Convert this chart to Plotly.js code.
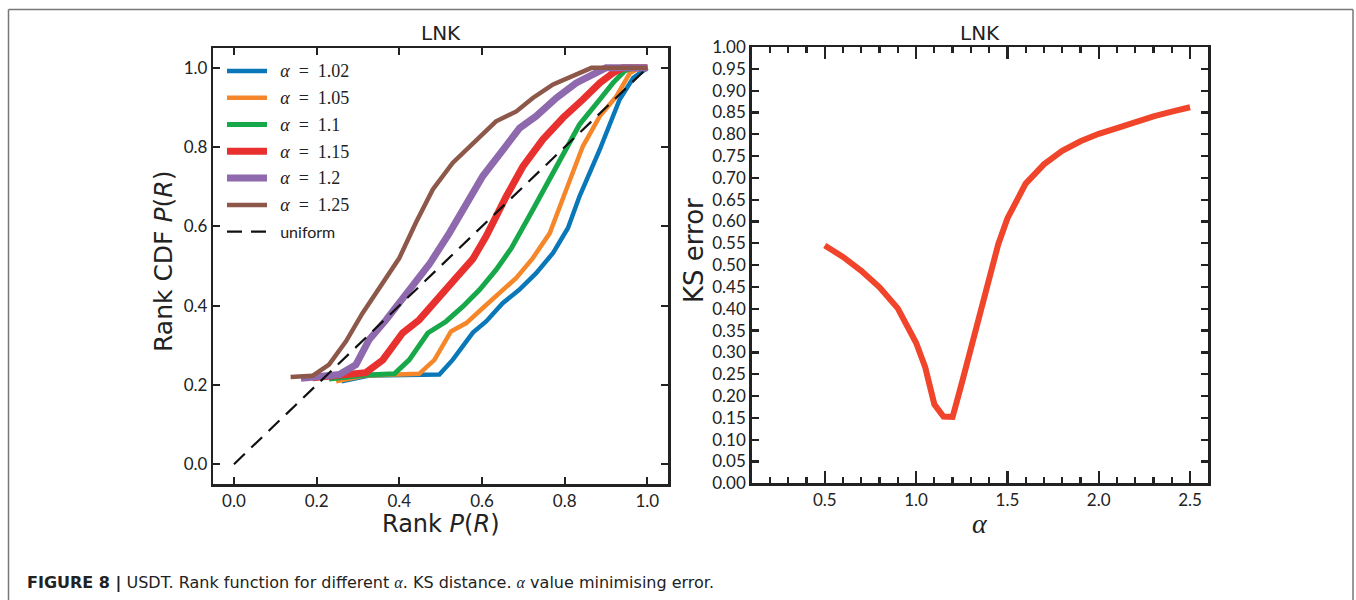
<!DOCTYPE html>
<html>
<head>
<meta charset="utf-8">
<script src="https://cdn.plot.ly/plotly-3.0.1.min.js"></script>
<style>html,body{margin:0;padding:0;background:#fff;}#chart{width:1356px;height:600px;}</style>
</head>
<body>
<div id="chart"></div>
<script>
// ---------- data: left panel (rank CDF) ----------
const seriesNames = ["1.02", "1.05", "1.1", "1.15", "1.2", "1.25"];

const x_102 = [0.26, 0.33, 0.497, 0.529, 0.578, 0.61, 0.65, 0.69, 0.731, 0.772, 0.808, 0.836, 0.885, 0.933, 0.966, 1.0];
const y_102 = [0.209, 0.224, 0.226, 0.263, 0.332, 0.36, 0.406, 0.44, 0.482, 0.533, 0.596, 0.676, 0.794, 0.92, 0.975, 1.0];

const x_105 = [0.247, 0.32, 0.448, 0.485, 0.525, 0.562, 0.602, 0.642, 0.683, 0.723, 0.764, 0.804, 0.844, 0.885, 0.925, 0.958, 0.982, 1.0];
const y_105 = [0.209, 0.224, 0.228, 0.263, 0.335, 0.356, 0.394, 0.432, 0.47, 0.52, 0.583, 0.693, 0.802, 0.878, 0.928, 0.987, 1.0, 1.0];

const x_110 = [0.23, 0.32, 0.388, 0.424, 0.469, 0.513, 0.554, 0.594, 0.634, 0.671, 0.723, 0.772, 0.804, 0.836, 0.885, 0.917, 0.945, 0.966, 1.0];
const y_110 = [0.215, 0.225, 0.228, 0.263, 0.331, 0.36, 0.398, 0.44, 0.49, 0.545, 0.642, 0.735, 0.794, 0.857, 0.92, 0.962, 0.992, 1.0, 1.0];

const x_115 = [0.19, 0.24, 0.319, 0.36, 0.408, 0.448, 0.489, 0.533, 0.578, 0.61, 0.659, 0.699, 0.747, 0.796, 0.844, 0.885, 0.917, 0.941, 1.0];
const y_115 = [0.218, 0.222, 0.231, 0.263, 0.331, 0.364, 0.415, 0.465, 0.518, 0.575, 0.676, 0.751, 0.819, 0.874, 0.92, 0.962, 0.987, 1.0, 1.0];

const x_120 = [0.162, 0.255, 0.295, 0.327, 0.368, 0.4, 0.432, 0.473, 0.521, 0.562, 0.602, 0.642, 0.691, 0.731, 0.78, 0.828, 0.877, 0.9, 1.0];
const y_120 = [0.217, 0.226, 0.251, 0.314, 0.364, 0.407, 0.448, 0.505, 0.583, 0.659, 0.727, 0.781, 0.848, 0.878, 0.924, 0.962, 0.987, 1.0, 1.0];

const x_125 = [0.137, 0.19, 0.23, 0.271, 0.311, 0.36, 0.4, 0.44, 0.481, 0.529, 0.586, 0.634, 0.683, 0.723, 0.772, 0.82, 0.865, 1.0];
const y_125 = [0.22, 0.223, 0.251, 0.31, 0.381, 0.457, 0.52, 0.609, 0.693, 0.76, 0.819, 0.865, 0.89, 0.924, 0.958, 0.979, 1.0, 1.0];

const x_uniform = [0, 1];
const y_uniform = [0, 1];

// ---------- data: right panel (KS error vs alpha) ----------
const alphaValues = [0.5, 0.6, 0.7, 0.8, 0.9, 1.0, 1.05, 1.1, 1.15, 1.2, 1.25, 1.3, 1.35, 1.4, 1.45, 1.5, 1.55, 1.6, 1.7, 1.8, 1.9, 2.0, 2.1, 2.2, 2.3, 2.4, 2.5];
const ksError = [0.545, 0.519, 0.487, 0.449, 0.401, 0.322, 0.266, 0.181, 0.153, 0.152, 0.229, 0.312, 0.396, 0.477, 0.548, 0.607, 0.651, 0.687, 0.731, 0.762, 0.784, 0.801, 0.814, 0.828, 0.841, 0.852, 0.862];

// ---------- text ----------
const panelTitle = "LNK";
const leftXTitle = "Rank <i>P</i>(<i>R</i>)";
const leftYTitle = "Rank CDF <i>P</i>(<i>R</i>)";
const rightXTitle = "<i>α</i>";
const rightYTitle = "KS error";

// ---------- styling ----------
const W = 1356, H = 600;
const px = v => v / W;
const py = v => 1 - v / H;

const colors = ["#0a78b8", "#f5872a", "#17a84a", "#e8302f", "#8f69ae", "#8d5849"];
const widths = [4.5, 4.5, 5, 7, 7, 4.5];
const xs = [x_102, x_105, x_110, x_115, x_120, x_125];
const ys = [y_102, y_105, y_110, y_115, y_120, y_125];

const SANS = "Lato, 'DejaVu Sans', sans-serif";
const TITLESANS = "'DejaVu Sans', Lato, sans-serif";
const SERIF = "'Liberation Serif', 'DejaVu Serif', serif";

const traces = [];
for (let i = 0; i < seriesNames.length; i++) {
  traces.push({
    x: xs[i], y: ys[i], type: "scatter", mode: "lines",
    name: '&nbsp;&nbsp;<span style="font-family:Liberation Serif;font-size:18px"><i>α</i>&nbsp;&nbsp;=&nbsp;&nbsp;' + seriesNames[i] + '</span>',
    legendgroup: "g" + i,
    line: {color: colors[i], width: widths[i]},
    xaxis: "x", yaxis: "y", hoverinfo: "skip"
  });
}
traces.push({
  x: x_uniform, y: y_uniform, type: "scatter", mode: "lines", name: "&nbsp;&nbsp;uniform",
  legendgroup: "g6",
  line: {color: "#111", width: 2.2, dash: "15px,9px"},
  xaxis: "x", yaxis: "y", hoverinfo: "skip"
});
traces.push({
  x: alphaValues, y: ksError, type: "scatter", mode: "lines", name: "KS",
  showlegend: false,
  line: {color: "#f0452a", width: 6},
  xaxis: "x2", yaxis: "y2", hoverinfo: "skip"
});

const axisCommon = {
  showgrid: false, zeroline: false, showline: true, linecolor: "#222", linewidth: 2.5,
  mirror: "ticks", ticks: "inside", tickcolor: "#222", tickwidth: 2.2,
  tickfont: {family: SANS, size: 17, color: "#222"}
};

const titleFont = {family: TITLESANS, size: 25, color: "#222"};

const layout = {
  width: W, height: H,
  margin: {l: 0, r: 0, t: 0, b: 0},
  paper_bgcolor: "#fff", plot_bgcolor: "#fff",
  showlegend: true,
  legend: {
    x: px(222), y: py(54), xanchor: "left", yanchor: "top",
    bgcolor: "rgba(0,0,0,0)", borderwidth: 0,
    font: {family: SANS, size: 16, color: "#222"},
    tracegroupgap: 3, itemwidth: 40
  },
  xaxis: Object.assign({}, axisCommon, {
    domain: [px(213.3), px(668)], range: [-0.05, 1.05],
    tick0: 0, dtick: 0.2, tickformat: ".1f", ticklen: 7, anchor: "y"
  }),
  yaxis: Object.assign({}, axisCommon, {
    domain: [py(484), py(48)], range: [-0.05, 1.05],
    tick0: 0, dtick: 0.2, tickformat: ".1f", ticklen: 7, anchor: "x"
  }),
  xaxis2: Object.assign({}, axisCommon, {
    domain: [px(751.7), px(1208.3)], range: [0.1, 2.6],
    tick0: 0, dtick: 0.5, tickformat: ".1f", ticklen: 12, anchor: "y2",
    minor: {dtick: 0.1, tick0: 0, ticklen: 6, ticks: "inside", tickwidth: 2.2, tickcolor: "#222"}
  }),
  yaxis2: Object.assign({}, axisCommon, {
    domain: [py(483.3), py(47)], range: [0, 1],
    tick0: 0, dtick: 0.05, tickformat: ".2f", ticklen: 7, anchor: "x2"
  }),
  annotations: [
    {text: panelTitle, xref: "paper", yref: "paper", x: px(441), y: py(33), xanchor: "center", yanchor: "middle",
     showarrow: false, font: {family: TITLESANS, size: 20, color: "#222"}},
    {text: panelTitle, xref: "paper", yref: "paper", x: px(980), y: py(33), xanchor: "center", yanchor: "middle",
     showarrow: false, font: {family: TITLESANS, size: 20, color: "#222"}},
    {text: leftXTitle, xref: "paper", yref: "paper", x: px(441), y: py(524), xanchor: "center", yanchor: "middle",
     showarrow: false, font: {family: TITLESANS, size: 24, color: "#222"}},
    {text: leftYTitle, xref: "paper", yref: "paper", x: px(163), y: py(262), xanchor: "center", yanchor: "middle",
     textangle: -90, showarrow: false, font: titleFont},
    {text: rightXTitle, xref: "paper", yref: "paper", x: px(980), y: py(523), xanchor: "center", yanchor: "middle",
     showarrow: false, font: {family: SERIF, size: 28, color: "#222"}},
    {text: rightYTitle, xref: "paper", yref: "paper", x: px(694), y: py(251), xanchor: "center", yanchor: "middle",
     textangle: -90, showarrow: false, font: {family: TITLESANS, size: 26, color: "#222"}},
    {text: '<b>FIGURE 8 |</b> USDT. Rank function for different <span style="font-family:Liberation Serif"><i>α</i></span>. KS distance. <span style="font-family:Liberation Serif"><i>α</i></span> value minimising error.',
     xref: "paper", yref: "paper", x: px(25), y: py(583), xanchor: "left", yanchor: "middle",
     showarrow: false, font: {family: "'DejaVu Sans', Arial, sans-serif", size: 16, color: "#222"}}
  ],
  shapes: [
    {type: "line", xref: "paper", yref: "paper", x0: px(8.5), x1: px(8.5), y0: py(9.5), y1: -0.05, line: {color: "#777", width: 1.5}},
    {type: "line", xref: "paper", yref: "paper", x0: px(8.5), x1: px(1353), y0: py(9.5), y1: py(9.5), line: {color: "#777", width: 1.5}},
    {type: "line", xref: "paper", yref: "paper", x0: px(1353), x1: px(1353), y0: py(9.5), y1: -0.05, line: {color: "#777", width: 1.5}}
  ]
};

Plotly.newPlot("chart", traces, layout, {displayModeBar: false, staticPlot: true});
</script>
</body>
</html>
